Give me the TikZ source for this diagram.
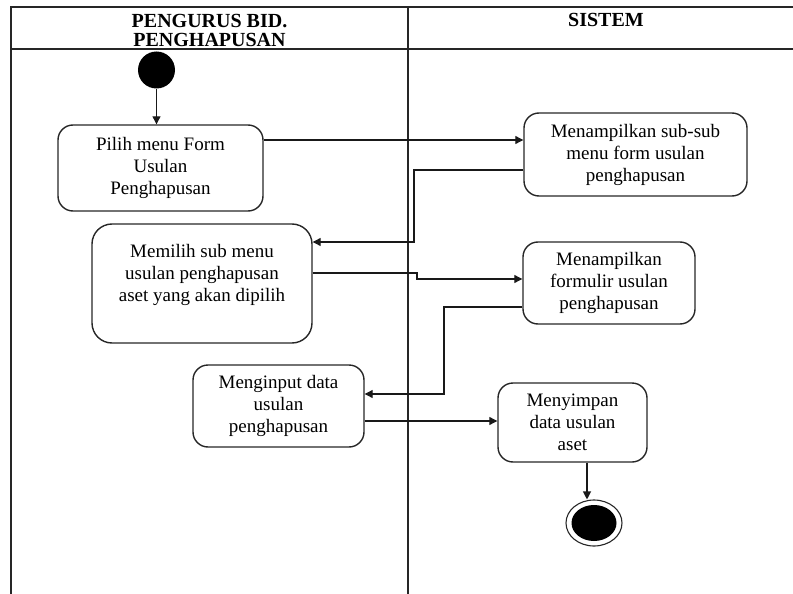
\documentclass[tikz,border=0pt]{standalone}
\usepackage{fontspec}
\setmainfont{Liberation Serif}
\usetikzlibrary{arrows.meta,shapes.geometric}

\begin{document}
\begin{tikzpicture}[x=1pt,y=-1pt,
  lane/.style={draw=black!85, line width=1.2pt},
  act/.style={draw=black!85, line width=1.4pt, rounded corners=15pt,
    rectangle, inner sep=0pt, align=center,
    font=\fontsize{19}{22}\selectfont},
  txt/.style={inner sep=0pt, align=center, font=\fontsize{19}{22}\selectfont},
  hdr/.style={inner sep=0pt, align=center, font=\fontsize{20}{19}\selectfont\bfseries},
  arr/.style={draw=black!90, line width=1.1pt, -{Triangle[length=8pt,width=8pt]}}
]
\useasboundingbox (0,0) rectangle (793,594);

% swimlane frame
\draw[lane] (11,594) -- (11,7) -- (793,7);
\draw[lane] (11,49) -- (793,49);
\draw[lane] (408,7) -- (408,594);

% lane headers
\node[hdr] (h1) at (209.5,30) {PENGURUS BID.\\PENGHAPUSAN};
\node[hdr] (h2) at (606,20) {SISTEM};

% initial node
\node[circle, fill=black, minimum size=37pt, inner sep=0pt] (start) at (156.5,70) {};

% actions
\node[act, minimum width=205pt, minimum height=86pt] (b1) at (160.5,168)
  {Pilih menu Form\\Usulan\\Penghapusan};
\node[act, minimum width=223pt, minimum height=83pt] (b2) at (635.5,154.5)
  {Menampilkan sub-sub\\menu form usulan\\penghapusan};
\node[act, minimum width=220pt, minimum height=119pt, rounded corners=20pt] (b3) at (202,283.5) {};
\node[txt] (t3) at (202,275) {Memilih sub menu\\usulan penghapusan\\aset yang akan dipilih};
\node[act, minimum width=172pt, minimum height=82pt] (b4) at (609,283)
  {Menampilkan\\formulir usulan\\penghapusan};
\node[act, minimum width=171pt, minimum height=82pt] (b5) at (278.5,406)
  {Menginput data\\usulan\\penghapusan};
\node[act, minimum width=149pt, minimum height=79pt] (b6) at (572.5,422.5)
  {Menyimpan\\data usulan\\aset};

% final node
\node[ellipse, draw=black!85, line width=1.1pt, minimum width=56pt, minimum height=46pt, inner sep=0pt] (final) at (594,523) {};
\node[ellipse, fill=black, minimum width=45pt, minimum height=36pt, inner sep=0pt] (finalin) at (594,523) {};

% control flow
\draw[arr] (start.south) -- (start.south |- b1.north);
\draw[arr] (b1.east |- 0,140) -- (b2.west |- 0,140);
\draw[arr] (b2.west |- 0,170) -| (414,242) -- (b3.east |- 0,242);
\draw[arr] (b3.east |- 0,273) -- (417,273) -- (417,279) -- (b4.west |- 0,279);
\draw[arr] (b4.west |- 0,307) -| (444,394) -- (b5.east |- 0,394);
\draw[arr] (b5.east |- 0,421) -- (b6.west |- 0,421);
\draw[arr] (b6.south -| 587,0) -- (final.north -| 587,0);
\end{tikzpicture}
\end{document}
